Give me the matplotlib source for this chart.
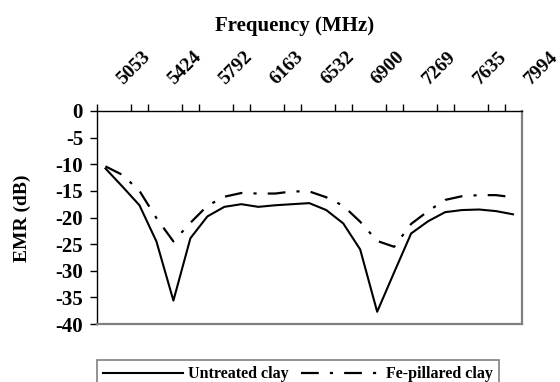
from __future__ import annotations

import matplotlib

matplotlib.use("Agg")

import matplotlib.pyplot as plt
import numpy as np

# EMR readings per frequency step (25 steps, every 3rd one labelled)
freq_labels = ["5053", "5424", "5792", "6163", "6532", "6900", "7269", "7635", "7994"]
label_every = 3
untreated_clay = [
    -10.8, -14.2, -17.7, -24.5, -35.6, -23.9, -19.8, -18.0, -17.5, -18.0,
    -17.7, -17.5, -17.3, -18.6, -21.1, -26.0, -37.7, -30.3, -23.0, -20.7,
    -19.0, -18.6, -18.5, -18.8, -19.4,
]
fe_pillared_clay = [
    -10.4, -12.0, -15.0, -20.1, -24.5, -21.0, -17.8, -16.1, -15.4, -15.5,
    -15.5, -15.1, -15.1, -16.2, -17.8, -20.8, -24.4, -25.5, -21.2, -18.8,
    -16.7, -16.0, -15.8, -15.8, -16.2,
]
y_ticks = [0, -5, -10, -15, -20, -25, -30, -35, -40]

FONT = "Liberation Serif"
W, H = 560, 382


def main() -> int:
    plt.rcParams["font.family"] = FONT
    plt.rcParams["axes.unicode_minus"] = False
    fig = plt.figure(figsize=(W / 100, H / 100), dpi=100)
    fig.subplots_adjust(left=97 / W, right=521.5 / W, top=1 - 111 / H, bottom=1 - 324 / H)
    ax = fig.add_subplot(111)

    n = len(untreated_clay)
    x = np.arange(n)
    ax.plot(x, untreated_clay, color="black", linewidth=1.5, label="Untreated clay")
    ax.plot(
        x,
        fe_pillared_clay,
        color="black",
        linewidth=1.6,
        linestyle=(0, (8.0, 5.0, 1.4, 5.0)),
        label="Fe-pillared clay",
    )

    ax.set_xlim(-0.5, n - 0.5)
    ax.set_ylim(-40, 0)

    # category axis on top: tick marks at boundaries, labels at every 3rd boundary
    ax.xaxis.tick_top()
    ax.set_xticks(np.arange(n + 1) - 0.5, minor=True)
    label_pos = [i + 0.5 for i in range(0, n, label_every)]
    ax.set_xticks(label_pos)
    ax.set_xticklabels(freq_labels)
    ax.tick_params(axis="x", which="major", length=0, pad=17)
    ax.tick_params(axis="x", which="minor", length=5, width=1, direction="out", top=True, bottom=False)
    for lbl in ax.get_xticklabels():
        lbl.set_rotation(45)
        lbl.set_ha("left")
        lbl.set_va("bottom")
        lbl.set_fontsize(14)
        lbl.set_fontweight("bold")

    ax.set_yticks(y_ticks)
    ax.tick_params(axis="y", length=5, width=1, direction="out", pad=5, labelsize=15)
    for lbl in ax.get_yticklabels():
        lbl.set_fontweight("bold")

    for side in ("top", "left"):
        ax.spines[side].set_color("black")
        ax.spines[side].set_linewidth(1.0)
    for side in ("right", "bottom"):
        ax.spines[side].set_color("#808080")
        ax.spines[side].set_linewidth(1.6)

    fig.text(295 / W, 1 - 26 / H, "Frequency (MHz)", ha="center", va="center",
             fontsize=15, fontweight="bold")
    fig.text(22 / W, 1 - 218 / H, "EMR (dB)", ha="center", va="center",
             rotation=90, fontsize=14, fontweight="bold")

    leg = fig.legend(
        loc="upper left",
        bbox_to_anchor=(97 / W, 1 - 360 / H),
        ncol=2,
        prop={"family": FONT, "weight": "bold", "size": 11.5},
        handlelength=5.0,
        handletextpad=0.3,
        columnspacing=0.8,
        borderpad=0.4,
        borderaxespad=0,
        fancybox=False,
        framealpha=1,
    )
    leg.get_frame().set_edgecolor("#808080")
    leg.get_frame().set_linewidth(1.2)

    fig.savefig("out.png", dpi=100)
    plt.close(fig)
    return 0


if __name__ == "__main__":
    raise SystemExit(main())
